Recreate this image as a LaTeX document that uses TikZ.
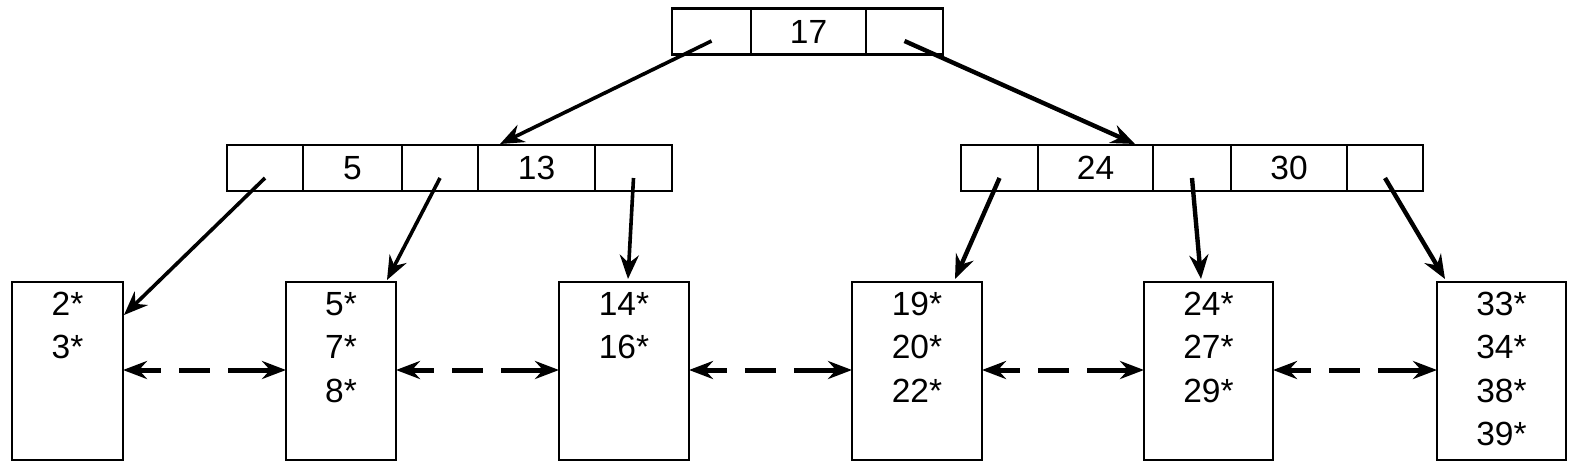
\documentclass[tikz,border=0pt]{standalone}
\usepackage{fontspec}
\setmainfont{Liberation Sans}
\usetikzlibrary{arrows.meta,calc}
\begin{document}
\begin{tikzpicture}[x=1pt,y=-1pt,
  cell/.style={draw,line width=2.2pt,inner sep=0pt,outer sep=0pt,minimum height=46pt,font=\fontsize{33.5}{40}\selectfont},
  leaf/.style={draw,line width=2.2pt,inner sep=0pt,outer sep=0pt,minimum height=178pt},
  key/.style={anchor=base,inner sep=0pt,font=\fontsize{33.5}{40}\selectfont},
  tarrow/.style={line width=3.6pt,-{Stealth[length=24pt,width=19pt,inset=8pt]}},
  tarrowb/.style={line width=4.4pt,-{Stealth[length=24pt,width=19pt,inset=8pt]}},
  sib/.style={line width=5pt,{Stealth[length=24pt,width=18pt,inset=8pt]}-{Stealth[length=24pt,width=18pt,inset=8pt]},dash pattern=on 24pt off 18pt on 31pt off 18pt on 200pt}
]
\useasboundingbox (0,0) rectangle (1576,472);
% root
\node[cell,minimum width=79pt]  (r1) at (711.5,31.5) {};
\node[cell,minimum width=115pt] (r2) at (808.5,31.5) {17};
\node[cell,minimum width=77pt]  (r3) at (904.5,31.5) {};
% mid left
\node[cell,minimum width=76pt]  (a1) at (265,168) {};
\node[cell,minimum width=99pt]  (a2) at (352.5,168) {5};
\node[cell,minimum width=76pt]  (a3) at (440,168) {};
\node[cell,minimum width=117pt] (a4) at (536.5,168) {13};
\node[cell,minimum width=77pt]  (a5) at (633.5,168) {};
% mid right
\node[cell,minimum width=77pt]  (b1) at (999.5,168) {};
\node[cell,minimum width=115pt] (b2) at (1095.5,168) {24};
\node[cell,minimum width=78pt]  (b3) at (1192,168) {};
\node[cell,minimum width=116pt] (b4) at (1289,168) {30};
\node[cell,minimum width=76pt]  (b5) at (1385,168) {};
% leaves
\node[leaf,minimum width=111pt] (L1) at (67.5,371) {};
\node[leaf,minimum width=110pt] (L2) at (341,371) {};
\node[leaf,minimum width=130pt] (L3) at (624,371) {};
\node[leaf,minimum width=130pt] (L4) at (917,371) {};
\node[leaf,minimum width=129pt] (L5) at (1208.5,371) {};
\node[leaf,minimum width=129pt] (L6) at (1501.5,371) {};
% leaf entries
\node[key] (k1a) at ($(L1.north)+(0,33)$) {2*};
\node[key] (k1b) at ($(L1.north)+(0,76.5)$) {3*};
\node[key] (k2a) at ($(L2.north)+(0,33)$) {5*};
\node[key] (k2b) at ($(L2.north)+(0,76.5)$) {7*};
\node[key] (k2c) at ($(L2.north)+(0,120)$) {8*};
\node[key] (k3a) at ($(L3.north)+(0,33)$) {14*};
\node[key] (k3b) at ($(L3.north)+(0,76.5)$) {16*};
\node[key] (k4a) at ($(L4.north)+(0,33)$) {19*};
\node[key] (k4b) at ($(L4.north)+(0,76.5)$) {20*};
\node[key] (k4c) at ($(L4.north)+(0,120)$) {22*};
\node[key] (k5a) at ($(L5.north)+(0,33)$) {24*};
\node[key] (k5b) at ($(L5.north)+(0,76.5)$) {27*};
\node[key] (k5c) at ($(L5.north)+(0,120)$) {29*};
\node[key] (k6a) at ($(L6.north)+(0,33)$) {33*};
\node[key] (k6b) at ($(L6.north)+(0,76.5)$) {34*};
\node[key] (k6c) at ($(L6.north)+(0,120)$) {38*};
\node[key] (k6d) at ($(L6.north)+(0,163.5)$) {39*};
% pointer coordinates
\coordinate (r1s) at ($(r1.center)+(0,9.5)$);
\coordinate (r3s) at ($(r3.center)+(0,9.5)$);
\coordinate (a1s) at ($(a1.center)+(0,10)$);
\coordinate (a3s) at ($(a3.center)+(0,10)$);
\coordinate (a5s) at ($(a5.center)+(0,10)$);
\coordinate (b1s) at ($(b1.center)+(0,10)$);
\coordinate (b3s) at ($(b3.center)+(0,10)$);
\coordinate (b5s) at ($(b5.center)+(0,10)$);
\coordinate (a4t) at ($(a4.north west)+(22,-1)$);
\coordinate (b2t) at ($(b2.north west)+(97,-1)$);
\coordinate (L1t) at ($(L1.north east)+(1,33)$);
\coordinate (L2t) at ($(L2.north east)+(-9,-2)$);
\coordinate (L3t) at ($(L3.north)+(4,-3)$);
\coordinate (L4t) at ($(L4.north east)+(-27,-3)$);
\coordinate (L5t) at ($(L5.north)+(-7.5,-3)$);
\coordinate (L6t) at ($(L6.north west)+(8,-3)$);
% tree pointers
\draw[tarrow] (r1s) -- (a4t);
\draw[tarrowb] (r3s) -- (b2t);
\draw[tarrow] (a1s) -- (L1t);
\draw[tarrow] (a3s) -- (L2t);
\draw[tarrow] (a5s) -- (L3t);
\draw[tarrowb] (b1s) -- (L4t);
\draw[tarrowb] (b3s) -- (L5t);
\draw[tarrowb] (b5s) -- (L6t);
% sibling pointers
\draw[sib] ($(L1.east)+(0,-1)$) -- ($(L2.west)+(0,-1)$);
\draw[sib] ($(L2.east)+(0,-1)$) -- ($(L3.west)+(0,-1)$);
\draw[sib] ($(L3.east)+(0,-1)$) -- ($(L4.west)+(0,-1)$);
\draw[sib] ($(L4.east)+(0,-1)$) -- ($(L5.west)+(0,-1)$);
\draw[sib] ($(L5.east)+(0,-1)$) -- ($(L6.west)+(0,-1)$);
\end{tikzpicture}
\end{document}
